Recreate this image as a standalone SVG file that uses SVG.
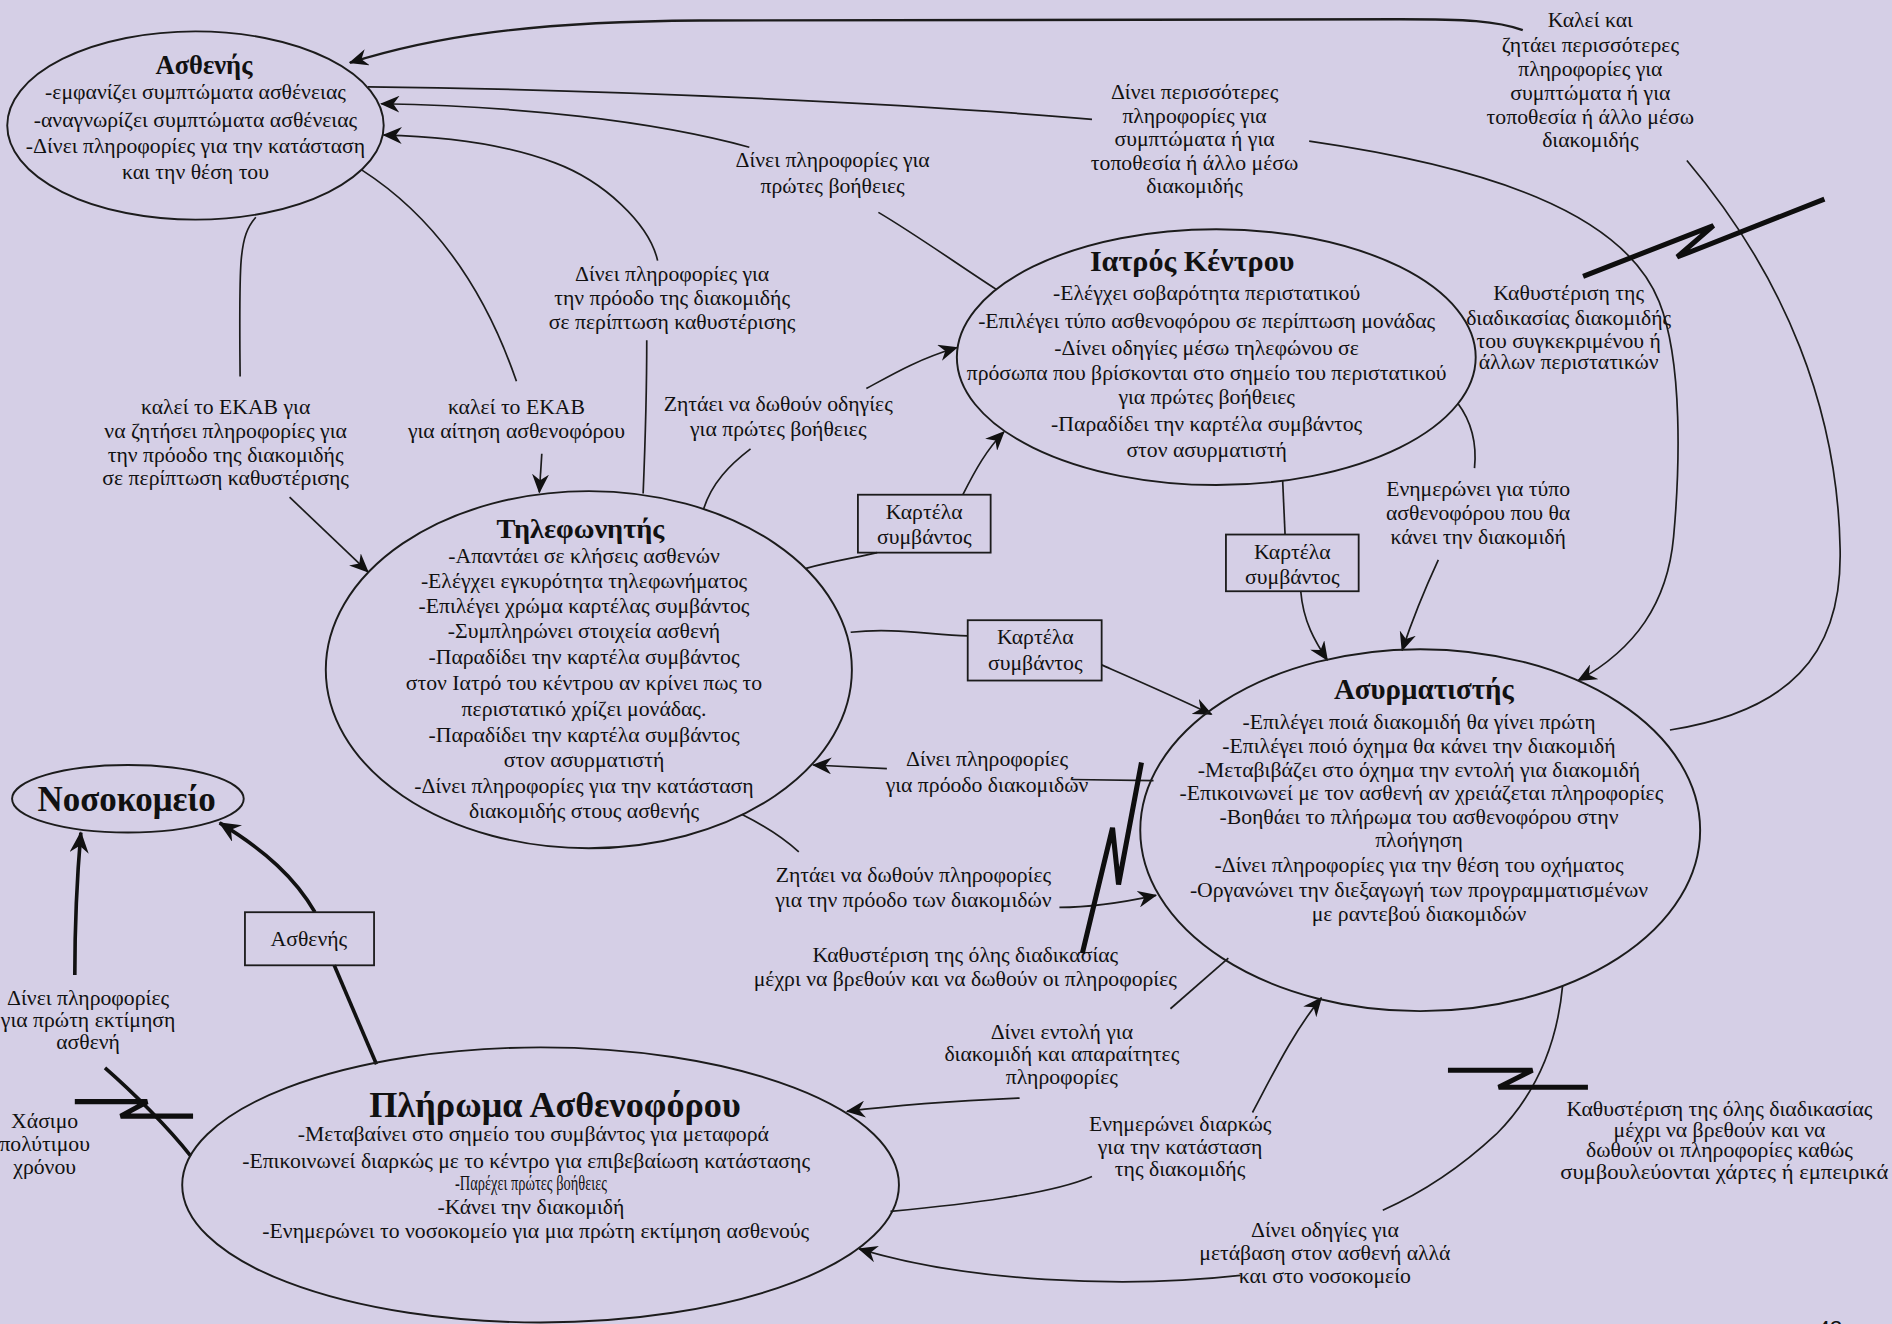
<svg xmlns="http://www.w3.org/2000/svg" width="1892" height="1324" viewBox="0 0 1892 1324">
<style>
  text{font-family:"Liberation Serif","Times New Roman","DejaVu Serif",serif;fill:#111}
  .t{font-size:18px;text-anchor:middle}
  .h{font-weight:bold;text-anchor:middle}
  .sh{fill:none;stroke:#1c1c1c;stroke-width:1.6}
  .bx{fill:none;stroke:#1c1c1c;stroke-width:1.5}
  .c{fill:none;stroke:#1c1c1c;stroke-width:1.4}
  .cm{fill:none;stroke:#1c1c1c;stroke-width:2}
  .k{fill:none;stroke:#111;stroke-width:3}
  .z{fill:none;stroke:#0e0e0e;stroke-width:4.2;stroke-linejoin:miter;stroke-miterlimit:4}
  .pg{font-family:"Liberation Sans",Arial,sans-serif;font-size:22px;text-anchor:middle}
</style>
<defs>
  <marker id="ar" viewBox="0 0 16 14" refX="15" refY="7" markerWidth="16" markerHeight="14" markerUnits="userSpaceOnUse" orient="auto">
    <path d="M0,0 L16,7 L0,14 L5,7 Z" fill="#111"/>
  </marker>
  <marker id="ark" viewBox="0 0 18 16" refX="17" refY="8" markerWidth="18" markerHeight="16" markerUnits="userSpaceOnUse" orient="auto">
    <path d="M0,0 L18,8 L0,16 L6,8 Z" fill="#111"/>
  </marker>
</defs>

<rect x="0" y="0" width="1892" height="1324" fill="#d5cfe6"/>

<g transform="scale(1.20663)">

  <!-- connectors -->
  <g id="connectors">
    <!-- dispatcher calls the patient -->
    <path class="c" d="M1384,605 C1480,590 1527,545 1525,455 C1523,340 1480,230 1398,133"/>
    <path class="cm" d="M1262,25 C1240,17 1215,16 1160,16 L580,17 C440,18 360,30 290,52" marker-end="url(#ar)"/>
    <!-- patient gives more info to dispatcher -->
    <path class="c" d="M305,72 C500,74 760,86 905,99"/>
    <path class="c" d="M1085,117 C1230,138 1345,175 1375,250 C1395,300 1392,390 1387,445 C1382,500 1355,538 1308,564" marker-end="url(#ar)"/>
    <!-- doctor gives first-aid info to patient -->
    <path class="c" d="M826,240 C795,220 760,195 728,176"/>
    <path class="c" d="M621,122 C540,100 430,88 316,86" marker-end="url(#ar)"/>
    <!-- operator gives progress info to patient -->
    <path class="c" d="M533,409 C535,360 536,320 536,282"/>
    <path class="c" d="M545,216 C538,185 500,150 460,135 C420,120 370,113 318,112" marker-end="url(#ar)"/>
    <!-- patient calls EKAB -->
    <path class="c" d="M212,180 C198,196 198,215 199,312"/>
    <path class="c" d="M240,412 L305,474" marker-end="url(#ar)"/>
    <path class="c" d="M300,141 C345,170 395,220 428,316"/>
    <path class="c" d="M449,376 L447,408" marker-end="url(#ar)"/>
    <!-- operator asks doctor for first-aid instructions -->
    <path class="c" d="M583,422 C590,400 605,385 622,372"/>
    <path class="c" d="M718,322 C740,310 760,298 793,288" marker-end="url(#ar)"/>
    <!-- incident card: operator to doctor -->
    <path class="c" d="M668,471 C690,465 710,462 727,458"/>
    <path class="c" d="M798,410 C808,390 818,372 832,358" marker-end="url(#ar)"/>
    <!-- incident card: operator to dispatcher -->
    <path class="c" d="M705,524 C740,520 770,526 802,527"/>
    <path class="c" d="M913,551 C945,565 975,578 1004,592" marker-end="url(#ar)"/>
    <!-- incident card: doctor to dispatcher -->
    <path class="c" d="M1063,398 L1065,443"/>
    <path class="c" d="M1078,490 C1080,515 1090,532 1100,547" marker-end="url(#ar)"/>
    <!-- doctor informs dispatcher on ambulance type -->
    <path class="c" d="M1208,334 C1220,350 1224,368 1222,388"/>
    <path class="c" d="M1192,464 C1180,490 1170,515 1162,539" marker-end="url(#ar)"/>
    <!-- dispatcher gives progress info to operator -->
    <path class="c" d="M956,647 L888,646"/>
    <path class="c" d="M735,637 L674,634" marker-end="url(#ar)"/>
    <!-- operator asks dispatcher for progress -->
    <path class="c" d="M615,675 C635,685 650,695 662,706"/>
    <path class="c" d="M878,752 C905,752 930,748 958,742" marker-end="url(#ar)"/>
    <!-- dispatcher orders the crew -->
    <path class="c" d="M1018,794 L970,836"/>
    <path class="c" d="M845,910 C800,912 750,915 702,921" marker-end="url(#ar)"/>
    <!-- crew reports to dispatcher -->
    <path class="c" d="M738,1004 C800,998 870,990 905,975"/>
    <path class="c" d="M1038,922 C1055,890 1072,855 1095,827" marker-end="url(#ar)"/>
    <!-- dispatcher gives route instructions to crew -->
    <path class="c" d="M1295,817 C1290,870 1270,910 1240,940 C1210,968 1180,988 1146,1003"/>
    <path class="c" d="M1028,1057 C930,1068 800,1062 712,1035" marker-end="url(#ar)"/>
    <!-- crew to hospital -->
    <path class="k" d="M62,808 C62,760 64,725 67,690" marker-end="url(#ark)"/>
    <path class="k" d="M158,958 C140,935 110,905 87,885"/>
    <path class="k" d="M312,882 L277,800"/>
    <path class="k" d="M261,756 C245,728 220,705 182,682" marker-end="url(#ark)"/>

    <!-- delay break marks -->
    <path class="z" d="M1312,229 L1420,187 L1390,213 L1512,165"/>
    <path class="z" d="M897,790 L922,686 L927,733 L946,632"/>
    <path class="z" d="M1200,887 L1270,887 L1242,901 L1316,901"/>
    <path class="z" d="M62,913 L122,913 L100,925 L160,925"/>
  </g>

  <!-- nodes -->
  <g id="n-asthenis">
    <ellipse class="sh" cx="162" cy="104" rx="156" ry="78"/>
    <text class="h" x="169" y="61" font-size="22">Ασθενής</text>
    <text class="t" x="162" y="82">-εμφανίζει συμπτώματα ασθένειας</text>
    <text class="t" x="162" y="105">-αναγνωρίζει συμπτώματα ασθένειας</text>
    <text class="t" x="162" y="127">-Δίνει πληροφορίες για την κατάσταση</text>
    <text class="t" x="162" y="148">και την θέση του</text>
  </g>

  <g id="n-iatros">
    <ellipse class="sh" cx="1008" cy="296" rx="215" ry="106"/>
    <text class="h" x="988" y="225" font-size="25">Ιατρός Κέντρου</text>
    <text class="t" x="1000" y="249">-Ελέγχει σοβαρότητα περιστατικού</text>
    <text class="t" x="1000" y="272">-Επιλέγει τύπο ασθενοφόρου σε περίπτωση μονάδας</text>
    <text class="t" x="1000" y="294">-Δίνει οδηγίες μέσω τηλεφώνου σε</text>
    <text class="t" x="1000" y="315">πρόσωπα που βρίσκονται στο σημείο του περιστατικού</text>
    <text class="t" x="1000" y="335">για πρώτες βοήθειες</text>
    <text class="t" x="1000" y="357">-Παραδίδει την καρτέλα συμβάντος</text>
    <text class="t" x="1000" y="379">στον ασυρματιστή</text>
  </g>

  <g id="n-tilefonitis">
    <ellipse class="sh" cx="488" cy="555" rx="218" ry="148"/>
    <text class="h" x="481" y="446" font-size="23.5">Τηλεφωνητής</text>
    <text class="t" x="484" y="467">-Απαντάει σε κλήσεις ασθενών</text>
    <text class="t" x="484" y="487">-Ελέγχει εγκυρότητα τηλεφωνήματος</text>
    <text class="t" x="484" y="508">-Επιλέγει χρώμα καρτέλας συμβάντος</text>
    <text class="t" x="484" y="529">-Συμπληρώνει στοιχεία ασθενή</text>
    <text class="t" x="484" y="550">-Παραδίδει την καρτέλα συμβάντος</text>
    <text class="t" x="484" y="572">στον Ιατρό του κέντρου αν κρίνει πως το</text>
    <text class="t" x="484" y="593">περιστατικό χρίζει μονάδας.</text>
    <text class="t" x="484" y="615">-Παραδίδει την καρτέλα συμβάντος</text>
    <text class="t" x="484" y="636">στον ασυρματιστή</text>
    <text class="t" x="484" y="657">-Δίνει πληροφορίες για την κατάσταση</text>
    <text class="t" x="484" y="678">διακομιδής στους ασθενής</text>
  </g>

  <g id="n-asyrmatistis">
    <ellipse class="sh" cx="1177" cy="688" rx="232" ry="150"/>
    <text class="h" x="1180" y="579" font-size="24">Ασυρματιστής</text>
    <text class="t" x="1176" y="604">-Επιλέγει ποιά διακομιδή θα γίνει πρώτη</text>
    <text class="t" x="1176" y="624">-Επιλέγει ποιό όχημα θα κάνει την διακομιδή</text>
    <text class="t" x="1176" y="644">-Μεταβιβάζει στο όχημα την εντολή για διακομιδή</text>
    <text class="t" x="1178" y="663">-Επικοινωνεί με τον ασθενή αν χρειάζεται πληροφορίες</text>
    <text class="t" x="1176" y="683">-Βοηθάει το πλήρωμα του ασθενοφόρου στην</text>
    <text class="t" x="1176" y="702">πλοήγηση</text>
    <text class="t" x="1176" y="723">-Δίνει πληροφορίες για την θέση του οχήματος</text>
    <text class="t" x="1176" y="743">-Οργανώνει την διεξαγωγή των προγραμματισμένων</text>
    <text class="t" x="1176" y="763">με ραντεβού διακομιδών</text>
  </g>

  <g id="n-nosokomeio">
    <ellipse class="sh" cx="106" cy="662" rx="96" ry="28"/>
    <text class="h" x="105" y="672" font-size="29">Νοσοκομείο</text>
  </g>

  <g id="n-plirwma">
    <ellipse class="sh" cx="448" cy="982" rx="297" ry="114"/>
    <text class="h" x="460" y="926" font-size="30">Πλήρωμα Ασθενοφόρου</text>
    <text class="t" x="442" y="946" font-size="19.5">-Μεταβαίνει στο σημείο του συμβάντος για μεταφορά</text>
    <text class="t" x="436" y="968" font-size="19.5">-Επικοινωνεί διαρκώς με το κέντρο για επιβεβαίωση κατάστασης</text>
    <text class="t" x="440" y="986" font-size="12" textLength="126" lengthAdjust="spacingAndGlyphs">-Παρέχει πρώτες βοήθειες</text>
    <text class="t" x="440" y="1006" font-size="19.5">-Κάνει την διακομιδή</text>
    <text class="t" x="444" y="1026" font-size="19.5">-Ενημερώνει το νοσοκομείο για μια πρώτη εκτίμηση ασθενούς</text>
  </g>

  <g id="b-kartela-iatros">
    <rect class="bx" x="711" y="410" width="110" height="48"/>
    <text class="t" x="766" y="430">Καρτέλα</text>
    <text class="t" x="766" y="451">συμβάντος</text>
  </g>
  <g id="b-kartela-asyrm">
    <rect class="bx" x="802" y="514" width="111" height="50"/>
    <text class="t" x="858" y="534">Καρτέλα</text>
    <text class="t" x="858" y="555">συμβάντος</text>
  </g>
  <g id="b-kartela-iatros-asyrm">
    <rect class="bx" x="1016" y="443" width="110" height="47"/>
    <text class="t" x="1071" y="463">Καρτέλα</text>
    <text class="t" x="1071" y="484">συμβάντος</text>
  </g>
  <g id="b-asthenis">
    <rect class="bx" x="203" y="756" width="107" height="44"/>
    <text class="t" x="256" y="784">Ασθενής</text>
  </g>

  <!-- connector labels -->
  <g id="labels">
    <text class="t" x="1318" y="22">Καλεί και</text>
    <text class="t" x="1318" y="43">ζητάει περισσότερες</text>
    <text class="t" x="1318" y="63">πληροφορίες για</text>
    <text class="t" x="1318" y="83">συμπτώματα ή για</text>
    <text class="t" x="1318" y="103">τοποθεσία ή άλλο μέσω</text>
    <text class="t" x="1318" y="122">διακομιδής</text>

    <text class="t" x="990" y="82">Δίνει περισσότερες</text>
    <text class="t" x="990" y="102">πληροφορίες για</text>
    <text class="t" x="990" y="121">συμπτώματα ή για</text>
    <text class="t" x="990" y="141">τοποθεσία ή άλλο μέσω</text>
    <text class="t" x="990" y="160">διακομιδής</text>

    <text class="t" x="690" y="138">Δίνει πληροφορίες για</text>
    <text class="t" x="690" y="160">πρώτες βοήθειες</text>

    <text class="t" x="557" y="233">Δίνει πληροφορίες για</text>
    <text class="t" x="557" y="253">την πρόοδο της διακομιδής</text>
    <text class="t" x="557" y="273">σε περίπτωση καθυστέρισης</text>

    <text class="t" x="1300" y="249" font-size="16">Καθυστέριση της</text>
    <text class="t" x="1300" y="269" font-size="16">διαδικασίας διακομιδής</text>
    <text class="t" x="1300" y="288" font-size="16">του συγκεκριμένου ή</text>
    <text class="t" x="1300" y="306" font-size="16">άλλων περιστατικών</text>

    <text class="t" x="187" y="343">καλεί το ΕΚΑΒ για</text>
    <text class="t" x="187" y="363">να ζητήσει πληροφορίες για</text>
    <text class="t" x="187" y="383">την πρόοδο της διακομιδής</text>
    <text class="t" x="187" y="402">σε περίπτωση καθυστέρισης</text>

    <text class="t" x="428" y="343">καλεί το ΕΚΑΒ</text>
    <text class="t" x="428" y="363">για αίτηση ασθενοφόρου</text>

    <text class="t" x="645" y="341">Ζητάει να δωθούν οδηγίες</text>
    <text class="t" x="645" y="361">για πρώτες βοήθειες</text>

    <text class="t" x="1225" y="411">Ενημερώνει για τύπο</text>
    <text class="t" x="1225" y="431">ασθενοφόρου που θα</text>
    <text class="t" x="1225" y="451">κάνει την διακομιδή</text>

    <text class="t" x="818" y="635">Δίνει πληροφορίες</text>
    <text class="t" x="818" y="656">για πρόοδο διακομιδών</text>

    <text class="t" x="757" y="731">Ζητάει να δωθούν πληροφορίες</text>
    <text class="t" x="757" y="752">για την πρόοδο των διακομιδών</text>

    <text class="t" x="800" y="797" font-size="16.5">Καθυστέριση της όλης διαδικασίας</text>
    <text class="t" x="800" y="817" font-size="16.5">μέχρι να βρεθούν και να δωθούν οι πληροφορίες</text>

    <text class="t" x="880" y="861" font-size="17">Δίνει εντολή για</text>
    <text class="t" x="880" y="879" font-size="17">διακομιδή και απαραίτητες</text>
    <text class="t" x="880" y="898" font-size="17">πληροφορίες</text>

    <text class="t" x="978" y="937" font-size="17">Ενημερώνει διαρκώς</text>
    <text class="t" x="978" y="956" font-size="17">για την κατάσταση</text>
    <text class="t" x="978" y="975" font-size="17">της διακομιδής</text>

    <text class="t" x="1098" y="1025" font-size="17">Δίνει οδηγίες για</text>
    <text class="t" x="1098" y="1044" font-size="17">μετάβαση στον ασθενή αλλά</text>
    <text class="t" x="1098" y="1063" font-size="17">και στο νοσοκομείο</text>

    <text class="t" x="1425" y="925" font-size="17">Καθυστέριση της όλης διαδικασίας</text>
    <text class="t" x="1425" y="942" font-size="17">μέχρι να βρεθούν και να</text>
    <text class="t" x="1425" y="959" font-size="17">δωθούν οι πληροφορίες καθώς</text>
    <text class="t" x="1429" y="977" font-size="13" textLength="272" lengthAdjust="spacingAndGlyphs">συμβουλεύονται χάρτες ή εμπειρικά</text>

    <text class="t" x="73" y="833" font-size="16">Δίνει πληροφορίες</text>
    <text class="t" x="73" y="851" font-size="16">για πρώτη εκτίμηση</text>
    <text class="t" x="73" y="869" font-size="16">ασθενή</text>

    <text class="t" x="37" y="935">Χάσιμο</text>
    <text class="t" x="37" y="954">πολύτιμου</text>
    <text class="t" x="37" y="973">χρόνου</text>
  </g>
</g>

<!-- page number, cut by the lower edge -->
<text class="pg" x="1830" y="1336">43</text>
</svg>
